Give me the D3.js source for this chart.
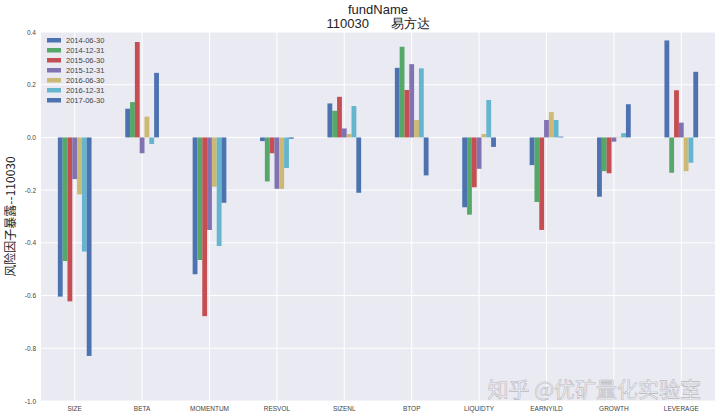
<!DOCTYPE html>
<html><head><meta charset="utf-8">
<script src="https://cdn.jsdelivr.net/npm/d3@7"></script>
<style>html,body{margin:0;padding:0;background:#fff;}</style>
</head><body>
<svg id="chart" width="720" height="419"></svg>
<script>
const categories = ["SIZE","BETA","MOMENTUM","RESVOL","SIZENL","BTOP","LIQUIDTY","EARNYILD","GROWTH","LEVERAGE"];
const seriesNames = ["2014-06-30","2014-12-31","2015-06-30","2015-12-31","2016-06-30","2016-12-31","2017-06-30"];
const s20140630 = [-0.604, 0.109, -0.519, -0.014, 0.129, 0.264, -0.265, -0.105, -0.225, 0.368];
const s20141231 = [-0.469, 0.134, -0.465, -0.167, 0.101, 0.344, -0.293, -0.245, -0.128, -0.134];
const s20150630 = [-0.622, 0.362, -0.678, -0.060, 0.154, 0.180, -0.189, -0.351, -0.136, 0.179];
const s20151231 = [-0.158, -0.060, -0.351, -0.195, 0.034, 0.278, -0.119, 0.066, -0.016, 0.056];
const s20160630 = [-0.216, 0.079, -0.187, -0.195, 0.013, 0.066, 0.013, 0.096, 0.002, -0.128];
const s20161231 = [-0.433, -0.025, -0.412, -0.116, 0.119, 0.262, 0.142, 0.066, 0.016, -0.096];
const s20170630 = [-0.829, 0.245, -0.248, -0.005, -0.210, -0.144, -0.036, 0.003, 0.126, 0.249];
const seriesValues = [s20140630, s20141231, s20150630, s20151231, s20160630, s20161231, s20170630];
const yTicks = [0.4, 0.2, 0.0, -0.2, -0.4, -0.6, -0.8, -1.0];
const colors = ["#4C72B0","#55A868","#C44E52","#8172B2","#CCB974","#64B5CD","#4C72B0"];

const svg = d3.select("#chart");
const L = 41, R = 715, T = 32, B = 401;
const font = "'Liberation Sans', Arial, sans-serif";

const x0 = d3.scaleBand().domain(categories).range([L, R]).paddingInner(0.5).paddingOuter(0.25);
const x1 = d3.scaleBand().domain(seriesNames).range([0, x0.bandwidth()]);
const y = d3.scaleLinear().domain([-1.0, 0.4]).range([B, T]);

svg.append("rect").attr("x", L).attr("y", T).attr("width", R - L).attr("height", B - T).attr("fill", "#EAEAF2");

// grid
svg.append("g").selectAll("line").data(yTicks).join("line")
  .attr("x1", L).attr("x2", R).attr("y1", d => y(d)).attr("y2", d => y(d))
  .attr("stroke", "#fff").attr("stroke-width", 1);
svg.append("g").selectAll("line").data(categories).join("line")
  .attr("y1", T).attr("y2", B).attr("x1", d => x0(d) + x0.bandwidth() / 2).attr("x2", d => x0(d) + x0.bandwidth() / 2)
  .attr("stroke", "#fff").attr("stroke-width", 1);

// bars
const barData = [];
seriesNames.forEach((s, si) => categories.forEach((c, ci) => barData.push({s, si, c, v: seriesValues[si][ci]})));
svg.append("g").selectAll("rect").data(barData).join("rect")
  .attr("x", d => x0(d.c) + x1(d.s))
  .attr("width", x1.bandwidth())
  .attr("y", d => y(Math.max(0, d.v)))
  .attr("height", d => Math.abs(y(d.v) - y(0)))
  .attr("fill", d => colors[d.si]);

// axes
const xAxis = svg.append("g").attr("transform", `translate(0,${B})`)
  .call(d3.axisBottom(x0).tickSize(0).tickPadding(5));
xAxis.select(".domain").remove();
xAxis.selectAll("text").attr("font-family", font).attr("font-size", 6.5).attr("fill", "#444");

const yAxis = svg.append("g").attr("transform", `translate(${L},0)`)
  .call(d3.axisLeft(y).tickValues(yTicks).tickSize(0).tickPadding(5).tickFormat(d3.format(".1f")));
yAxis.select(".domain").remove();
yAxis.selectAll("text").attr("font-family", font).attr("font-size", 6.5).attr("fill", "#444")
  .text(d => d3.format(".1f")(d).replace("−", "-"));

// titles
svg.append("text").attr("x", (L + R) / 2).attr("y", 14).attr("text-anchor", "middle")
  .attr("font-family", font).attr("font-size", 13).attr("fill", "#222").text("fundName");
svg.append("text").attr("x", (L + R) / 2).attr("y", 28).attr("text-anchor", "middle")
  .attr("font-family", font).attr("font-size", 13).attr("fill", "#222").style("white-space", "pre")
  .text("110030      易方达");

svg.append("text").attr("transform", `translate(15,${(T + B) / 2}) rotate(-90)`).attr("text-anchor", "middle")
  .attr("font-family", "'Noto Sans CJK SC', " + font).attr("font-size", 12).attr("fill", "#222")
  .text("风险因子暴露--110030");

// legend
const lg = svg.append("g").attr("transform", `translate(47,40)`);
seriesNames.forEach((s, i) => {
  lg.append("rect").attr("x", 0).attr("y", i * 10 - 2).attr("width", 14).attr("height", 4.5).attr("fill", colors[i]);
  lg.append("text").attr("x", 19).attr("y", i * 10 + 2.7).attr("font-family", font).attr("font-size", 7.5)
    .attr("fill", "#444").text(s);
});

// watermark
svg.append("text").attr("x", 701).attr("y", 397).attr("text-anchor", "end")
  .attr("font-family", "'Noto Sans CJK SC', sans-serif").attr("font-size", 21)
  .attr("fill", "#f4f4f8").attr("stroke", "#b8b8c0").attr("stroke-width", 0.6)
  .text("知乎 @优矿量化实验室");
</script>
</body></html>
